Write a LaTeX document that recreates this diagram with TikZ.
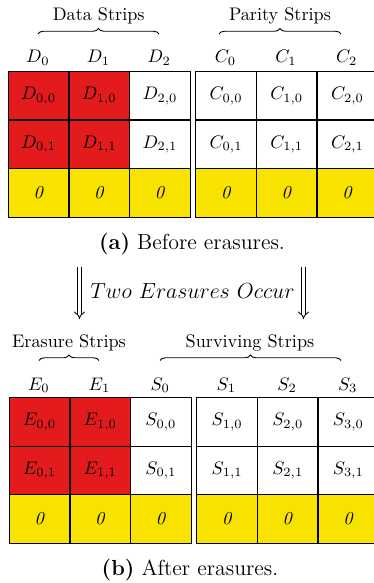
\documentclass[tikz,border=0pt]{standalone}
\usetikzlibrary{decorations.pathreplacing,arrows.meta}
\definecolor{erred}{RGB}{227,27,28}
\definecolor{zeroyel}{RGB}{248,227,0}
\begin{document}
\begin{tikzpicture}[x=0.55pt,y=-0.55pt,
  cell/.style={draw, line width=0.8pt, minimum width=33.37pt, minimum height=26.7pt, inner sep=0pt, anchor=north west},
  lost/.style={cell, fill=erred},
  pad/.style={cell, fill=zeroyel},
  brc/.style={decorate, decoration={brace, amplitude=3pt}, line width=0.5pt},
  lbl/.style={anchor=base, inner sep=0pt},
  dblarrow/.style={double, double distance=1.7pt, line width=0.45pt, -{Implies[scale=1.5]}}]
\useasboundingbox (0,0) rectangle (374,583);

% ---------- top table ----------
\node[lbl] (dataL) at (98.7,20.7) {Data Strips};
\node[lbl] (parL) at (280,20.7) {Parity Strips};
\draw[brc] (38,34) -- (159,34);
\draw[brc] (219,34) -- (341,34);

\foreach \i/\x in {0/7.5,1/68.17,2/128.83}{
  \node[lbl] (hD\i) at (\x+30.33,63) {$D_{\i}$};
}
\foreach \i/\x in {0/195,1/255.67,2/316.33}{
  \node[lbl] (hC\i) at (\x+30.33,63) {$C_{\i}$};
}
\foreach \i/\x in {0/7.5,1/68.17}{
  \node[lost] (D\i0) at (\x,71) {$D_{\i,0}$};
  \node[lost] (D\i1) at (\x,119.5) {$D_{\i,1}$};
  \node[pad] (DZ\i) at (\x,168) {\textit{0}};
}
\node[cell] (D20) at (128.83,71) {$D_{2,0}$};
\node[cell] (D21) at (128.83,119.5) {$D_{2,1}$};
\node[pad] (DZ2) at (128.83,168) {\textit{0}};
\foreach \i/\x in {0/195,1/255.67,2/316.33}{
  \node[cell] (C\i0) at (\x,71) {$C_{\i,0}$};
  \node[cell] (C\i1) at (\x,119.5) {$C_{\i,1}$};
  \node[pad] (CZ\i) at (\x,168) {\textit{0}};
}
\node[lbl] (capA) at (192,250) {\large\textbf{(a)} Before erasures.};

% ---------- transition ----------
\coordinate (la1) at (79.5,267);
\coordinate (la2) at (79.5,319);
\coordinate (ra1) at (303.5,267);
\coordinate (ra2) at (303.5,319);
\draw[dblarrow] (la1) -- (la2);
\draw[dblarrow] (ra1) -- (ra2);
\node[lbl] (occur) at (192.5,298) {\large $Two\ Erasures\ Occur$};

% ---------- bottom table ----------
\node[lbl] (eraL) at (69,347.3) {Erasure Strips};
\node[lbl] (surL) at (250,347.3) {Surviving Strips};
\draw[brc] (39,360.5) -- (99,360.5);
\draw[brc] (160,360.5) -- (341,360.5);

\foreach \i/\x in {0/8.5,1/69.17}{
  \node[lbl] (hE\i) at (\x+30.33,390) {$E_{\i}$};
}
\node[lbl] (hS0) at (129.83+30.33,390) {$S_{0}$};
\foreach \i/\x in {1/196,2/256.67,3/317.33}{
  \node[lbl] (hS\i) at (\x+30.33,390) {$S_{\i}$};
}
\foreach \i/\x in {0/8.5,1/69.17}{
  \node[lost] (E\i0) at (\x,397) {$E_{\i,0}$};
  \node[lost] (E\i1) at (\x,445.5) {$E_{\i,1}$};
  \node[pad] (EZ\i) at (\x,494) {\textit{0}};
}
\node[cell] (S00) at (129.83,397) {$S_{0,0}$};
\node[cell] (S01) at (129.83,445.5) {$S_{0,1}$};
\node[pad] (SZ0) at (129.83,494) {\textit{0}};
\foreach \i/\x in {1/196,2/256.67,3/317.33}{
  \node[cell] (S\i0) at (\x,397) {$S_{\i,0}$};
  \node[cell] (S\i1) at (\x,445.5) {$S_{\i,1}$};
  \node[pad] (SZ\i) at (\x,494) {\textit{0}};
}
\node[lbl] (capB) at (190,575) {\large\textbf{(b)} After erasures.};
\end{tikzpicture}
\end{document}
